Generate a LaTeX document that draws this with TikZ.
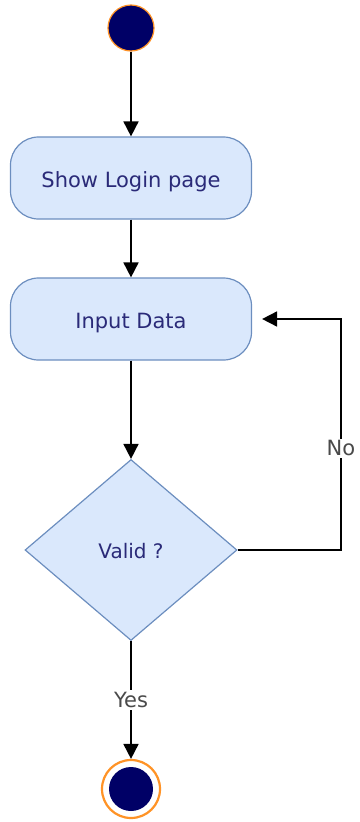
\documentclass[tikz,border=0pt]{standalone}
\usepackage{fontspec}
\setmainfont{DejaVu Sans}
\usetikzlibrary{shapes.geometric,arrows.meta}
\definecolor{boxfill}{HTML}{DAE8FC}
\definecolor{boxdraw}{HTML}{6C8EBF}
\definecolor{navy}{HTML}{000066}
\definecolor{txt}{HTML}{2A2A78}
\definecolor{ora}{HTML}{FF9326}
\definecolor{lbl}{HTML}{4A4A4A}
\begin{document}
\begin{tikzpicture}[x=1pt,y=-1pt,
  actbox/.style={draw=boxdraw,fill=boxfill,rounded corners=28pt,minimum width=241pt,minimum height=82pt,text=txt,font=\fontsize{21}{24}\selectfont,line width=1.2pt,text height=23pt,text depth=5pt},
  decbox/.style={draw=boxdraw,fill=boxfill,diamond,minimum width=212pt,minimum height=181pt,inner sep=0pt,text=txt,font=\fontsize{20}{23}\selectfont,line width=1.2pt,text height=21pt,text depth=5pt},
  conn/.style={draw=black,line width=1.8pt,-{Triangle[length=15pt,width=15pt]}},
  lab/.style={fill=white,text=lbl,font=\fontsize{21}{24}\selectfont,inner sep=2pt}]
\useasboundingbox (0,0) rectangle (359,822);
\node[circle,fill=navy,draw=ora,line width=1.2pt,minimum size=46pt,inner sep=0pt] (start) at (131,28) {};
\node[actbox] (show) at (131,178) {Show Login page};
\node[actbox] (input) at (131,319) {Input Data};
\node[decbox] (valid) at (131,550) {Valid ?};
\node[circle,draw=ora,line width=2.2pt,fill=white,minimum size=58pt,inner sep=0pt] (end) at (131,789) {};
\node[circle,fill=navy,minimum size=44pt,inner sep=0pt] (endin) at (end.center) {};
\coordinate (cx) at (341,319);
\draw[conn] (start) -- (show);
\draw[conn] (show) -- (input);
\draw[conn] (input) -- (valid);
\draw[conn,shorten >=10pt] (valid.east) -| node[lab,pos=0.72]{No} (cx) -- (input.east);
\draw[conn] (valid.south) -- node[lab,pos=0.5]{Yes} (end.north);
\end{tikzpicture}
\end{document}
